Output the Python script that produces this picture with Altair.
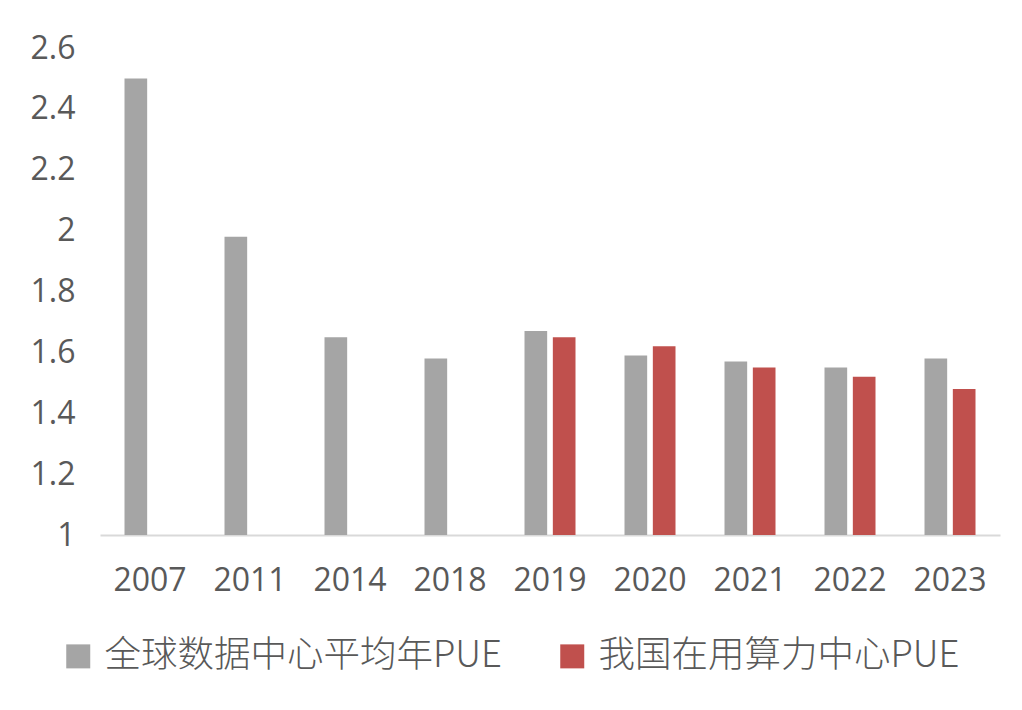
import altair as alt
import pandas as pd

years = ["2007", "2011", "2014", "2018", "2019", "2020", "2021", "2022", "2023"]
global_pue = [2.50, 1.98, 1.65, 1.58, 1.67, 1.59, 1.57, 1.55, 1.58]
china_years = ["2019", "2020", "2021", "2022", "2023"]
china_pue = [1.65, 1.62, 1.55, 1.52, 1.48]
series_names = ["全球数据中心平均年PUE", "我国在用算力中心PUE"]
colors = ["#a5a5a5", "#c0504d"]
y_ticks = [1, 1.2, 1.4, 1.6, 1.8, 2, 2.2, 2.4, 2.6]

rows = [{"year": y, "series": series_names[0], "value": v} for y, v in zip(years, global_pue)]
rows += [{"year": y, "series": series_names[1], "value": v} for y, v in zip(china_years, china_pue)]
df = pd.DataFrame(rows)

chart = alt.Chart(df).mark_bar().encode(
    x=alt.X("year:N", sort=years, title=None,
            scale=alt.Scale(paddingInner=0.49, paddingOuter=0.245),
            axis=alt.Axis(labelAngle=0, ticks=False, domainColor="#d9d9d9", domainWidth=2,
                          labelFontSize=32, labelFont="Open Sans", labelColor="#595959",
                          labelPadding=30)),
    xOffset=alt.XOffset("series:N", sort=series_names, scale=alt.Scale(paddingInner=0.2)),
    y=alt.Y("value:Q", title=None,
            scale=alt.Scale(domain=[1, 2.6], zero=False, nice=False),
            axis=alt.Axis(values=y_ticks, labelExpr="datum.value + ''", grid=False, domain=False,
                          ticks=False, labelFontSize=32, labelFont="Open Sans",
                          labelColor="#595959", labelPadding=25)),
    y2=alt.datum(1),
    color=alt.Color("series:N", sort=series_names, title=None,
                    scale=alt.Scale(domain=series_names, range=colors),
                    legend=alt.Legend(orient="none", legendX=-40, legendY=590, direction="horizontal",
                                      symbolType="square", symbolSize=576, symbolStrokeWidth=0,
                                      labelFontSize=36.5, labelFont="Noto Sans CJK SC",
                                      labelFontWeight=300,
                                      labelColor="#595959", labelOffset=8, columnPadding=52,
                                      labelLimit=600, padding=0)),
).properties(
    width=900, height=487,
    background="white",
    autosize=alt.AutoSizeParams(type="none"),
    padding={"left": 100, "top": 48, "right": 22, "bottom": 175},
).configure_view(stroke=None, strokeWidth=0)

chart.save("out.html", embed_options={"renderer": "svg", "actions": False})
